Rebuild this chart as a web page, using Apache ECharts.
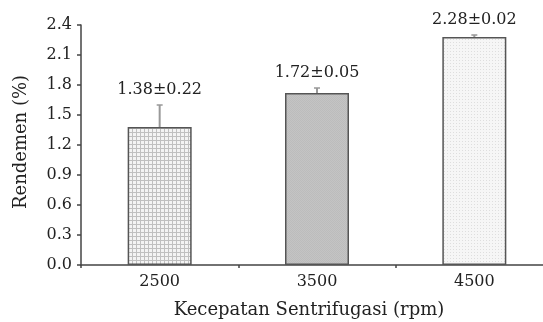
<!DOCTYPE html>
<html>
<head>
<meta charset="utf-8">
<script src="https://cdn.jsdelivr.net/npm/echarts@6/dist/echarts.min.js"></script>
<style>
html,body{margin:0;padding:0;background:#fff;overflow:hidden;}
#chart{width:543px;height:322px;}
</style>
</head>
<body>
<div id="chart"></div>
<script>
var categories = ['2500', '3500', '4500'];
var means = [1.38, 1.72, 2.28];
var errors = [0.22, 0.05, 0.02];
var yTicks = ['0.0','0.3','0.6','0.9','1.2','1.5','1.8','2.1','2.4'];

function makePattern(kind) {
  var c = document.createElement('canvas');
  var ctx = c.getContext('2d');
  if (kind === 0) {
    c.width = 4; c.height = 4;
    ctx.fillStyle = '#f4f4f4'; ctx.fillRect(0,0,4,4);
    ctx.fillStyle = '#c0c0c0';
    ctx.fillRect(0,0,4,1); ctx.fillRect(0,0,1,4);
  } else if (kind === 1) {
    c.width = 2; c.height = 2;
    ctx.fillStyle = '#c4c4c4'; ctx.fillRect(0,0,2,2);
    ctx.fillStyle = '#bcbcbc'; ctx.fillRect(0,0,1,1); ctx.fillRect(1,1,1,1);
  } else {
    c.width = 3; c.height = 3;
    ctx.fillStyle = '#f6f6f6'; ctx.fillRect(0,0,3,3);
    ctx.fillStyle = '#dedede'; ctx.fillRect(0,0,1,1);
  }
  return c;
}
var patterns = [makePattern(0), makePattern(1), makePattern(2)];

var font = '"DejaVu Serif", serif';
var fs = 16;
var chart = echarts.init(document.getElementById('chart'));
chart.setOption({
  animation: false,
  grid: { left: 81, top: 25, width: 472, height: 240, containLabel: false, outerBoundsMode: 'none' },
  xAxis: {
    type: 'category',
    data: categories,
    name: 'Kecepatan Sentrifugasi (rpm)',
    nameLocation: 'middle',
    nameGap: 36,
    nameTextStyle: { fontFamily: font, fontSize: 18, color: '#222', padding: [0, 16, 0, 0] },
    axisLine: { lineStyle: { color: '#444', width: 1.5 } },
    axisTick: { show: true, length: 3, lineStyle: { color: '#444', width: 1.5 } },
    axisLabel: { fontFamily: font, fontSize: fs, color: '#222', margin: 9 },
    splitLine: { show: false }
  },
  yAxis: {
    type: 'value',
    min: 0, max: 2.4, interval: 0.3,
    name: 'Rendemen (%)',
    nameLocation: 'middle',
    nameGap: 51,
    nameTextStyle: { fontFamily: font, fontSize: 18, color: '#222', padding: [0, 0, 0, 6] },
    axisLine: { show: true, lineStyle: { color: '#444', width: 1.5 } },
    axisTick: { show: true, length: 4, lineStyle: { color: '#444', width: 1.5 } },
    axisLabel: { fontFamily: font, fontSize: fs, color: '#222', margin: 9,
      formatter: function (v) { var i = Math.round(v / 0.3); return yTicks[i] !== undefined ? yTicks[i] : v.toFixed(1); } },
    splitLine: { show: false }
  },
  series: [
    {
      type: 'bar',
      barWidth: 64,
      data: means.map(function (v, i) {
        return { value: v, itemStyle: { color: { image: patterns[i], repeat: 'repeat' }, borderColor: '#555', borderWidth: 1.5 } };
      })
    },
    {
      type: 'custom',
      data: means.map(function (v, i) { return [i, v, errors[i]]; }),
      z: 10,
      renderItem: function (params, api) {
        var x = api.value(0), m = api.value(1), e = api.value(2);
        var p0 = api.coord([x, m]);
        var p1 = api.coord([x, m + e]);
        var label = m.toFixed(2) + '±' + e.toFixed(2);
        return {
          type: 'group',
          children: [
            { type: 'line', shape: { x1: p0[0], y1: p0[1], x2: p1[0], y2: p1[1] }, style: { stroke: '#999', lineWidth: 2 } },
            { type: 'line', shape: { x1: p1[0] - 3, y1: p1[1], x2: p1[0] + 3, y2: p1[1] }, style: { stroke: '#999', lineWidth: 1.5 } },
            { type: 'text', x: p1[0], y: p1[1] - 7, style: { text: label, fontFamily: font, fontSize: fs, fill: '#222', align: 'center', verticalAlign: 'bottom' } }
          ]
        };
      }
    }
  ]
});
</script>
</body>
</html>
